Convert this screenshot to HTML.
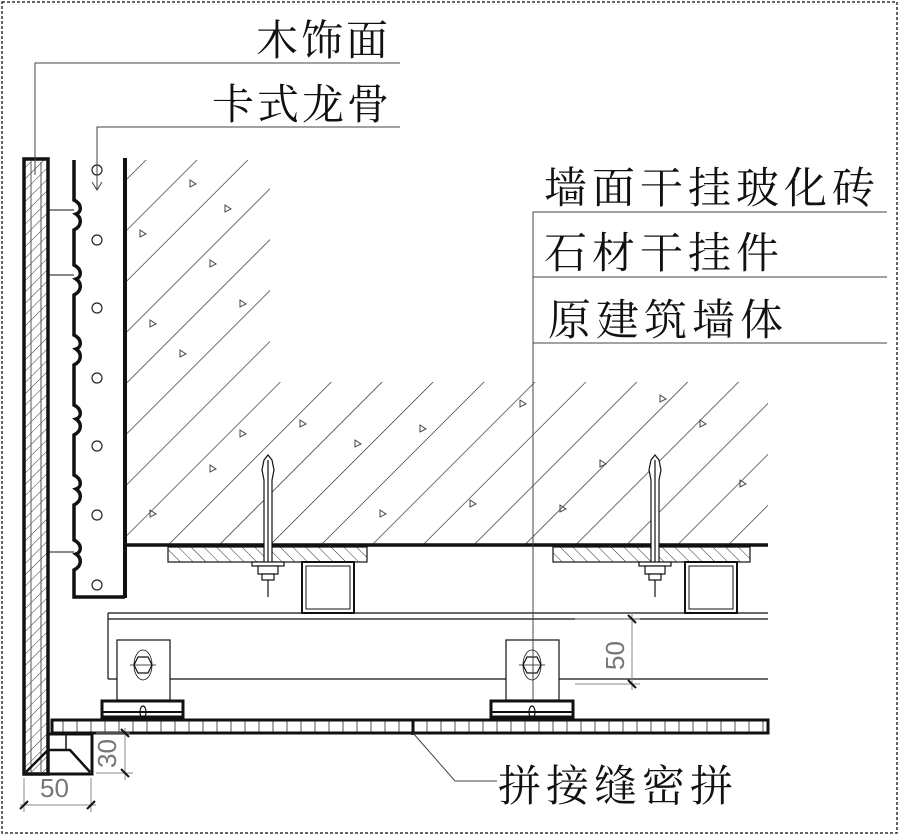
<!DOCTYPE html>
<html><head><meta charset="utf-8"><style>
html,body{margin:0;padding:0;background:#fff}
svg{display:block}
text{font-family:"Liberation Serif","Noto Serif CJK SC",serif;fill:#111}
.d{font-family:"Liberation Sans",sans-serif;fill:#777}
</style></head><body>
<svg width="900" height="837" viewBox="0 0 900 837" xmlns="http://www.w3.org/2000/svg">
<defs>
<clipPath id="wall"><polygon points="125,160 270,160 270,382 768,382 768,545 125,545"/></clipPath>
<pattern id="h45" width="36" height="36" patternUnits="userSpaceOnUse" patternTransform="rotate(45)">
<line x1="0" y1="0" x2="0" y2="36" stroke="#222" stroke-width="1.3"/></pattern>
<pattern id="hp" width="8" height="8" patternUnits="userSpaceOnUse" patternTransform="rotate(45)">
<line x1="0" y1="0" x2="0" y2="8" stroke="#333" stroke-width="1"/></pattern>
<pattern id="hq" width="9" height="9" patternUnits="userSpaceOnUse" patternTransform="rotate(-45)">
<line x1="0" y1="0" x2="0" y2="9" stroke="#333" stroke-width="1"/></pattern>
<pattern id="vt" width="14" height="14" patternUnits="userSpaceOnUse">
<line x1="7" y1="0" x2="7" y2="14" stroke="#555" stroke-width="1"/></pattern>
</defs>
<rect x="2" y="2" width="895" height="831" fill="none" stroke="#333" stroke-width="1.5" stroke-dasharray="3,2"/>

<!-- wall hatch -->
<rect x="125" y="160" width="643" height="385" fill="url(#h45)" clip-path="url(#wall)"/>
<g fill="none" stroke="#444" stroke-width="1">
<path d="M190,180l6,4l-6,3z M225,205l6,4l-6,3z M140,230l6,4l-6,3z M210,260l6,4l-6,3z M150,320l6,4l-6,3z M180,350l6,4l-6,3z M240,300l6,4l-6,3z M355,440l6,4l-6,3z M420,425l6,4l-6,3z M300,420l6,4l-6,3z M520,400l6,4l-6,3z M470,500l6,4l-6,3z M600,460l6,4l-6,3z M700,420l6,4l-6,3z M740,480l6,4l-6,3z M150,510l6,4l-6,3z M210,465l6,4l-6,3z M380,510l6,4l-6,3z M560,505l6,4l-6,3z M660,395l6,4l-6,3z M240,430l6,4l-6,3z"/>
</g>
<!-- wall line -->
<line x1="125" y1="158" x2="125" y2="598" stroke="#111" stroke-width="4"/>
<line x1="125" y1="545" x2="768" y2="545" stroke="#111" stroke-width="3.5"/>

<!-- wood facing -->
<rect x="24" y="159" width="24" height="615" fill="url(#hp)" stroke="#111" stroke-width="3.5"/>
<line x1="31" y1="162" x2="31" y2="772" stroke="#555" stroke-width="1"/>
<line x1="41" y1="162" x2="41" y2="772" stroke="#555" stroke-width="1"/>

<!-- keel -->
<path d="M74,160 L74,200 C82,204 82,212 76,214 C82,218 82,226 74,230 L74,265 C82,269 82,277 76,279 C82,283 82,291 74,295 L74,335 C82,339 82,347 76,349 C82,353 82,361 74,365 L74,405 C82,409 82,417 76,419 C82,423 82,431 74,435 L74,475 C82,479 82,487 76,489 C82,493 82,501 74,505 L74,540 C82,544 82,552 76,554 C82,558 82,566 74,570 L74,597 L125,597" fill="none" stroke="#111" stroke-width="3.5"/>
<g stroke="#111" stroke-width="1"><line x1="48" y1="210" x2="74" y2="210"/><line x1="48" y1="275" x2="74" y2="275"/><line x1="48" y1="552" x2="74" y2="552"/></g>
<g fill="none" stroke="#222" stroke-width="1.2">
<circle cx="97" cy="240" r="5"/><circle cx="97" cy="308" r="5"/><circle cx="97" cy="378" r="5"/><circle cx="97" cy="446" r="5"/><circle cx="97" cy="515" r="5"/><circle cx="97" cy="585" r="5"/><circle cx="97" cy="170" r="5"/>
</g>

<!-- plates & bolts -->
<g stroke="#111" stroke-width="1.2">
<rect x="168" y="547" width="199" height="15" fill="url(#hq)"/>
<rect x="553" y="547" width="197" height="15" fill="url(#hq)"/>
<rect x="302" y="562" width="52" height="51" fill="#fff" stroke-width="2"/>
<rect x="306" y="566" width="44" height="43" fill="none" stroke-width="1"/>
<rect x="685" y="562" width="52" height="51" fill="#fff" stroke-width="2"/>
<rect x="689" y="566" width="44" height="43" fill="none" stroke-width="1"/>
</g>
<g stroke="#111" stroke-width="1.2" fill="#fff">
<path d="M262,470 L264,460 L268,455 L272,460 L274,470 L272,480 L272,565 L264,565 L264,480 Z"/>
<line x1="268" y1="460" x2="268" y2="597"/>
<rect x="252" y="562" width="32" height="4"/><rect x="258" y="566" width="20" height="8"/><rect x="262" y="574" width="12" height="6"/>
<path d="M649,470 L651,460 L655,455 L659,460 L661,470 L659,480 L659,565 L651,565 L651,480 Z"/>
<line x1="655" y1="460" x2="655" y2="597"/>
<rect x="639" y="562" width="32" height="4"/><rect x="645" y="566" width="20" height="8"/><rect x="649" y="574" width="12" height="6"/>
</g>

<!-- horizontal channel -->
<g stroke="#111" stroke-width="1.2" fill="none">
<line x1="108" y1="613" x2="768" y2="613"/>
<line x1="108" y1="619" x2="768" y2="619"/>
<line x1="108" y1="679" x2="768" y2="679"/>
<line x1="108" y1="613" x2="108" y2="679"/>
<rect x="117" y="640" width="53" height="60" fill="#fff"/>
<rect x="506" y="640" width="53" height="60" fill="#fff"/>
<ellipse cx="143" cy="665" rx="9" ry="15" stroke-width="0.8"/>
<path d="M134,665 l4,-8 h10 l4,8 l-4,8 h-10 z"/>
<ellipse cx="532" cy="665" rx="9" ry="15" stroke-width="0.8"/>
<path d="M523,665 l4,-8 h10 l4,8 l-4,8 h-10 z"/>
<line x1="130" y1="665" x2="156" y2="665" stroke-width="0.8"/>
<line x1="519" y1="665" x2="545" y2="665" stroke-width="0.8"/>
<rect x="102" y="701" width="81" height="16" stroke-width="3"/>
<rect x="491" y="701" width="82" height="16" stroke-width="3"/>
<line x1="102" y1="712" x2="183" y2="712" stroke-width="2"/>
<line x1="491" y1="712" x2="573" y2="712" stroke-width="2"/>
<ellipse cx="143" cy="712" rx="3" ry="6"/>
<ellipse cx="532" cy="712" rx="3" ry="6"/>
</g>

<!-- ceiling panel -->
<rect x="52" y="720" width="716" height="13" fill="url(#vt)" stroke="#111" stroke-width="3"/>
<line x1="413" y1="720" x2="413" y2="735" stroke="#111" stroke-width="3"/>
<!-- corner piece -->
<g stroke="#111" stroke-width="3" fill="none">
<path d="M48,734 L92,734 L92,774 L24,774"/>
<path d="M26,772 L48,750 L70,750 L90,772" stroke-width="2.5"/>
<line x1="48" y1="734" x2="48" y2="750" stroke-width="1.5"/>
<line x1="66" y1="734" x2="66" y2="750" stroke-width="1.5"/>
</g>

<!-- dimensions -->
<g stroke="#888" stroke-width="1">
<line x1="24" y1="778" x2="24" y2="812"/><line x1="91" y1="778" x2="91" y2="812"/>
<line x1="20" y1="805" x2="96" y2="805"/>
<line x1="96" y1="733" x2="130" y2="733"/><line x1="96" y1="773" x2="133" y2="773"/>
<line x1="125" y1="728" x2="125" y2="780"/>
<line x1="575" y1="619" x2="640" y2="619"/><line x1="575" y1="684" x2="640" y2="684"/>
<line x1="632" y1="612" x2="632" y2="690"/>
</g>
<g stroke="#111" stroke-width="2">
<line x1="20" y1="809" x2="28" y2="801"/><line x1="87" y1="809" x2="95" y2="801"/>
<line x1="121" y1="729" x2="129" y2="737"/><line x1="121" y1="769" x2="129" y2="777"/>
<line x1="628" y1="615" x2="636" y2="623"/><line x1="628" y1="680" x2="636" y2="688"/>
</g>
<text class="d" x="40" y="797" font-size="26">50</text>
<text class="d" font-size="26" transform="translate(116,768) rotate(-90)">30</text>
<text class="d" font-size="26" transform="translate(624,670) rotate(-90)">50</text>

<!-- leaders -->
<g stroke="#444" stroke-width="1" fill="none">
<path d="M35,175 L35,63 L400,63"/>
<path d="M97,190 L97,127 L400,127"/>
<path d="M92,182 L97,190 L102,182"/>
<path d="M533,700 L533,212 L887,212"/>
<line x1="533" y1="277" x2="887" y2="277"/>
<line x1="533" y1="343" x2="887" y2="343"/>
<path d="M413,733 L455,781 L497,781"/>
</g>

<!-- labels -->
<text x="256" y="55" font-size="42" letter-spacing="3">木饰面</text>
<text x="212" y="119" font-size="42" letter-spacing="3">卡式龙骨</text>
<text x="544" y="203" font-size="43" letter-spacing="5">墙面干挂玻化砖</text>
<text x="544" y="268" font-size="43" letter-spacing="5">石材干挂件</text>
<text x="548" y="335" font-size="43" letter-spacing="5">原建筑墙体</text>
<text x="498" y="801" font-size="43" letter-spacing="5">拼接缝密拼</text>
</svg>
</body></html>
